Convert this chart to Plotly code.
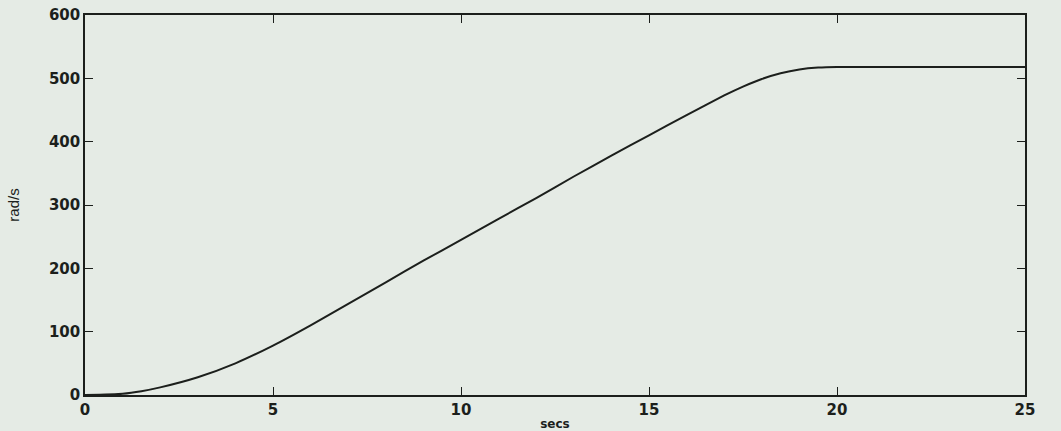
import plotly.graph_objects as go

t_secs = [0, 1, 1.5, 2, 3, 4, 5, 6, 7, 8, 9, 10, 11, 12, 13, 14, 15, 16, 17, 17.5, 18, 18.5, 19, 19.5, 20, 21, 22, 23, 24, 25]
speed_rads = [0, 2, 6, 12, 28, 50, 78, 110, 144, 178, 212, 245, 278, 311, 345, 378, 410, 442, 473, 487, 499, 508, 514, 517, 518, 518, 518, 518, 518, 518]

x_ticks = [0, 5, 10, 15, 20, 25]
y_ticks = [0, 100, 200, 300, 400, 500, 600]

bg = "#e5ebe5"
ink = "#1c1f1c"

fig = go.Figure()
fig.add_trace(go.Scatter(
    x=t_secs, y=speed_rads, mode="lines",
    line=dict(color=ink, width=2, shape="spline", smoothing=0.5),
    hoverinfo="skip", showlegend=False,
))

axis_common = dict(
    showgrid=False, zeroline=False, showline=True, linecolor=ink, linewidth=1.6,
    mirror="ticks", ticks="inside", ticklen=8, tickwidth=1.4, tickcolor=ink,
    automargin=False,
    tickfont=dict(family="DejaVu Sans", size=15, color=ink, weight="bold"),
)

fig.update_layout(
    width=1061, height=431,
    margin=dict(l=85, r=36, t=15, b=36, autoexpand=False),
    paper_bgcolor=bg, plot_bgcolor=bg,
    xaxis=dict(range=[0, 25], tickvals=x_ticks, ticklabelstandoff=0,
               title=dict(text="secs", standoff=2,
                          font=dict(family="DejaVu Sans", size=12, color=ink, weight="bold")),
               **axis_common),
    yaxis=dict(range=[0, 600], tickvals=y_ticks,
               title=dict(text="rad/s", standoff=26,
                          font=dict(family="Liberation Sans Narrow, Liberation Sans", size=15, color=ink)),
               **axis_common),
)

fig.write_html(
    "out.html",
    config={"displayModeBar": False},
    post_script="document.body.style.margin='0';document.body.style.overflow='hidden';"
                "document.body.style.background='" + bg + "';",
)
